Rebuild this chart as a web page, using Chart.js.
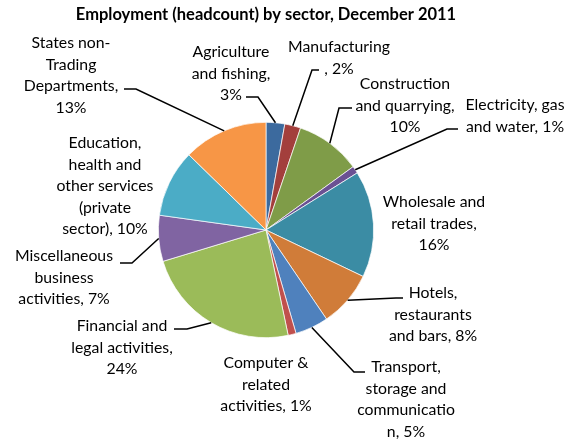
<!DOCTYPE html>
<html>
<head>
<meta charset="utf-8">
<script src="https://cdn.jsdelivr.net/npm/chart.js@4.4.1/dist/chart.umd.min.js"></script>
<style>
  html, body { margin: 0; padding: 0; background: #fff; }
  #chartSector { display: block; }
</style>
</head>
<body>
<canvas id="chartSector" width="569" height="442"></canvas>
<script>
// data (percent of headcount)
const sectors = [
    "Agriculture and fishing", "Manufacturing", "Construction and quarrying",
    "Electricity, gas and water", "Wholesale and retail trades",
    "Hotels, restaurants and bars", "Transport, storage and communication",
    "Computer & related activities", "Financial and legal activities",
    "Miscellaneous business activities",
    "Education, health and other services (private sector)",
    "States non-Trading Departments"
];
const shares = [2.8, 2.4, 9.8, 1.1, 16.0, 8.4, 5.0, 1.2, 23.6, 6.9, 10.1, 12.7];

// label text as wrapped in the original, {p} = percent
const labelLines = [
    ["Agriculture", "and fishing,", "{p}"],
    ["Manufacturing", ", {p}"],
    ["Construction", "and quarrying,", "{p}"],
    ["Electricity, gas", "and water, {p}"],
    ["Wholesale and", "retail trades,", "{p}"],
    ["Hotels,", "restaurants", "and bars, {p}"],
    ["Transport,", "storage and", "communicatio", "n, {p}"],
    ["Computer &", "related", "activities, {p}"],
    ["Financial and", "legal activities,", "{p}"],
    ["Miscellaneous", "business", "activities, {p}"],
    ["Education,", "health and", "other services", "(private", "sector), {p}"],
    ["States non-", "Trading", "Departments,", "{p}"]
];

const colors = [
    "#3C6A9E", "#A33F3C", "#7F9C48", "#6B5193", "#3B8CA4", "#D07C39",
    "#4F81BD", "#C0504D", "#9BBB59", "#8064A2", "#4BACC6", "#F79646"
];

// label placement: text centre x, first line y, leader elbow and end
const labelPos = [
    { x: 231, y: 52, elbow: [258, 97], end: 246 },
    { x: 339, y: 47, elbow: [312, 70], end: 319 },
    { x: 405, y: 84, elbow: [339, 108], end: 352 },
    { x: 515, y: 105, elbow: [447, 129], end: 458 },
    { x: 434, y: 202, elbow: null },
    { x: 433, y: 293, elbow: [396, 298], end: 403 },
    { x: 406, y: 367, elbow: [354, 372], end: 365 },
    { x: 266, y: 363, elbow: null },
    { x: 122, y: 326, elbow: [187, 329], end: 174 },
    { x: 64, y: 256, elbow: [132, 263], end: 120 },
    { x: 105, y: 143, elbow: null },
    { x: 71, y: 43, elbow: [136, 89], end: 124 }
];

const lineHeight = 21.5;
const fontFamily = "Lato, 'Open Sans', sans-serif";

const total = shares.reduce((a, b) => a + b, 0);

// draws title, labels and leader lines
const outsideLabels = {
    id: "outsideLabels",
    afterDraw(chart) {
        const ctx = chart.ctx;
        const area = chart.chartArea;
        const arcs = chart.getDatasetMeta(0).data;
        ctx.save();

        ctx.fillStyle = "#000";
        ctx.textAlign = "center";
        ctx.textBaseline = "middle";
        ctx.font = "bold 16.5px " + fontFamily;
        ctx.fillText("Employment (headcount) by sector, December 2011", (area.left + area.right) / 2, 15);

        ctx.font = "15.8px " + fontFamily;
        arcs.forEach((arc, i) => {
            const pct = Math.round(shares[i] / total * 100) + "%";
            const pos = labelPos[i];
            labelLines[i].forEach((line, k) => {
                ctx.fillText(line.replace("{p}", pct), pos.x, pos.y + k * lineHeight);
            });

            if (pos.elbow) {
                const mid = (arc.startAngle + arc.endAngle) / 2;
                const sx = arc.x + Math.cos(mid) * arc.outerRadius;
                const sy = arc.y + Math.sin(mid) * arc.outerRadius;
                ctx.beginPath();
                ctx.strokeStyle = "#000";
                ctx.lineWidth = 1.5;
                ctx.moveTo(sx, sy);
                ctx.lineTo(pos.elbow[0], pos.elbow[1]);
                ctx.lineTo(pos.end, pos.elbow[1]);
                ctx.stroke();
            }
        });
        ctx.restore();
    }
};

new Chart(document.getElementById("chartSector"), {
    type: "pie",
    data: {
        labels: sectors,
        datasets: [{
            data: shares,
            backgroundColor: colors,
            borderColor: "#fff",
            borderWidth: 0.7
        }]
    },
    options: {
        responsive: false,
        animation: false,
        layout: { padding: { top: 122, bottom: 104, left: 158, right: 195 } },
        plugins: {
            legend: { display: false },
            tooltip: { enabled: false },
            title: { display: false }
        }
    },
    plugins: [outsideLabels]
});
</script>
</body>
</html>
